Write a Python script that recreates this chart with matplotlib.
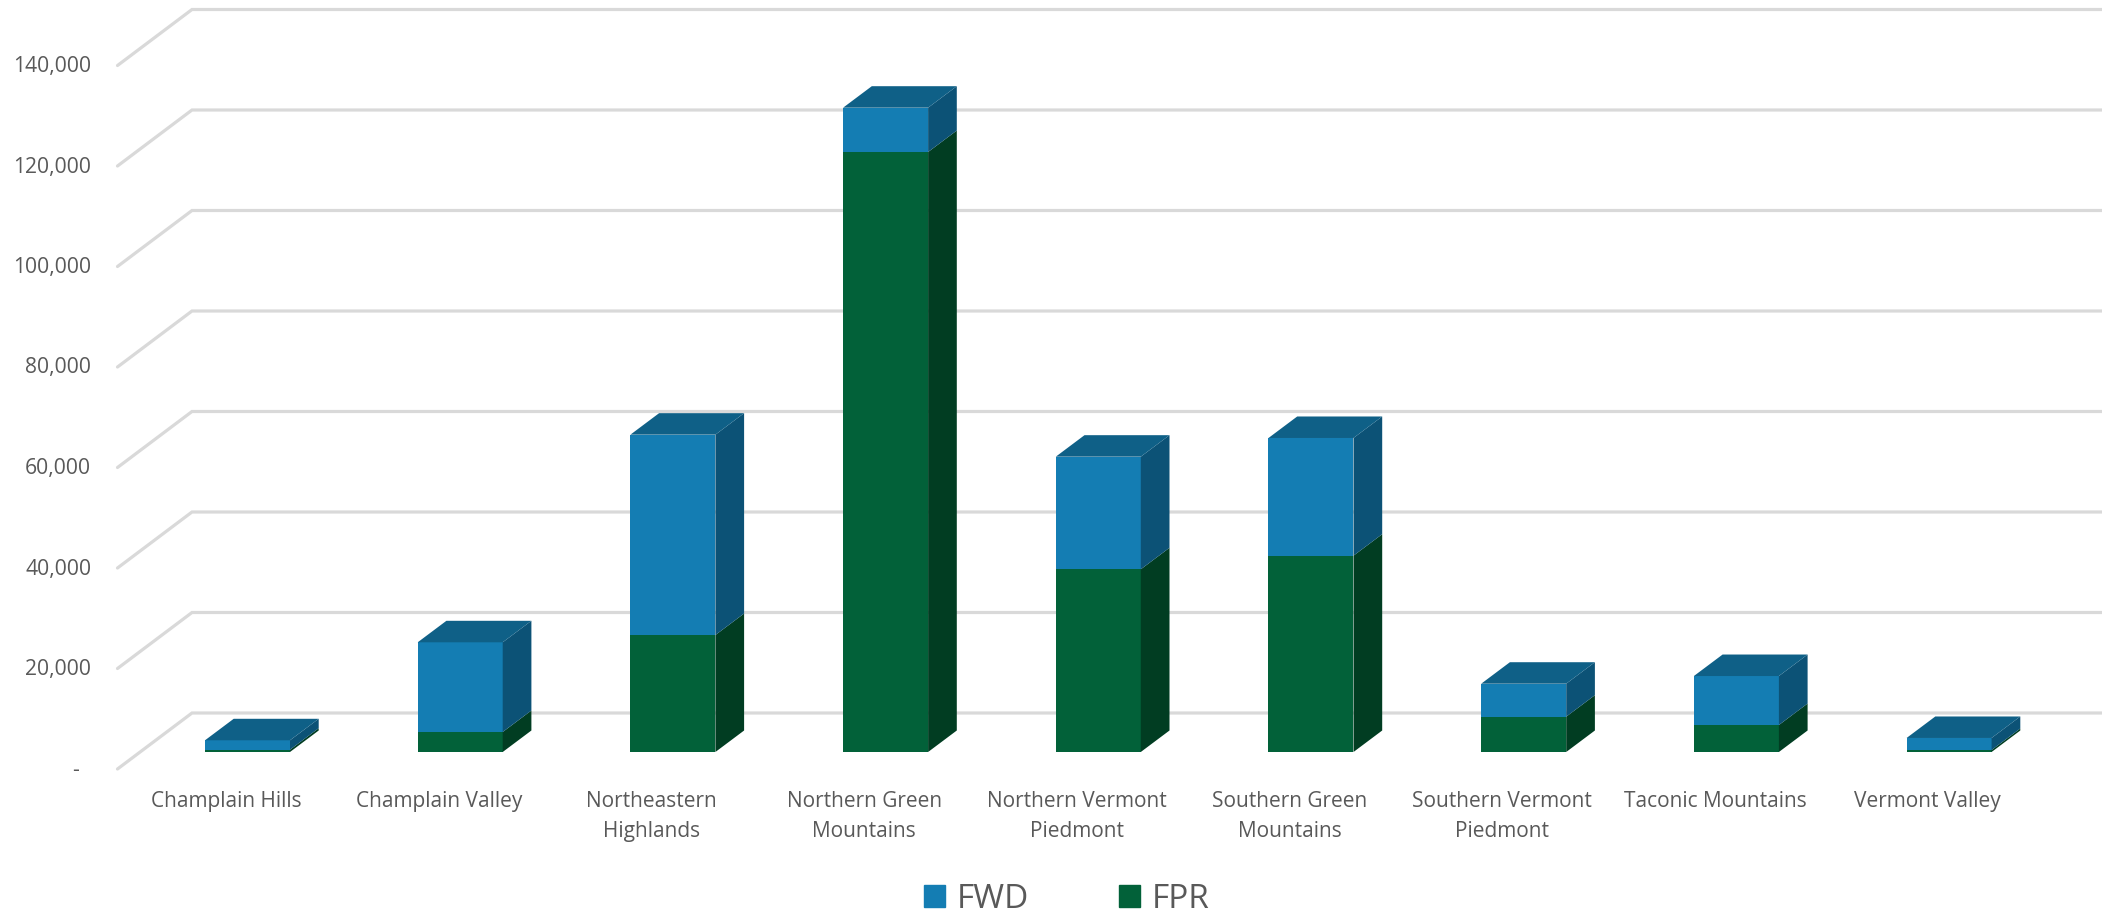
#!/usr/bin/env python3
# -*- coding: utf-8 -*-
"""Stacked pseudo-3D column chart, FWD and FPR by biophysical region."""

import matplotlib
matplotlib.use('Agg')
import matplotlib.pyplot as plt
from matplotlib.patches import Patch
from matplotlib.transforms import ScaledTranslation

regions = [
    'Champlain Hills', 'Champlain Valley', 'Northeastern\nHighlands',
    'Northern Green\nMountains', 'Northern Vermont\nPiedmont',
    'Southern Green\nMountains', 'Southern Vermont\nPiedmont',
    'Taconic Mountains', 'Vermont Valley',
]
fpr = [460, 3980, 23280, 119400, 36360, 39070, 7030, 5370, 400]
fwd = [1870, 17850, 39870, 8820, 22410, 23420, 6560, 9750, 2390]
y_ticks = [0, 20000, 40000, 60000, 80000, 100000, 120000, 140000]

WIDTH, HEIGHT, DPI = 2102, 911, 100
FONT = ['Open Sans', 'DejaVu Sans']
TEXT = '#595959'
GRID = '#D9D9D9'
FWD_FRONT, FWD_TOP, FWD_SIDE = '#147DB3', '#0F6087', '#0C5276'
FPR_FRONT, FPR_SIDE = '#026139', '#013D22'

# axes rectangle is the front plane of the columns, in pixels
LEFT, RIGHT, BASE, TOP = 141.15, 2055.45, 752, 48.5
px_x = 1 / ((RIGHT - LEFT) / 9)
px_y = 140000 / (BASE - TOP)

plt.rcParams['font.family'] = FONT

fig = plt.figure(figsize=(WIDTH / DPI, HEIGHT / DPI), dpi=DPI, facecolor='white')
ax = fig.add_axes([LEFT / WIDTH, 1 - BASE / HEIGHT,
                   (RIGHT - LEFT) / WIDTH, (BASE - TOP) / HEIGHT])
ax.set_xlim(-0.5, 8.5)
ax.set_ylim(0, 140000)
for spine in ax.spines.values():
    spine.set_visible(False)

# 背景网格: front edge of the floor, then back along the wall
for v in y_ticks:
    ax.plot([-0.5 - 23.65 * px_x, -0.5 + 50.85 * px_x, 8.5 + 50.85 * px_x],
            [v - 17 * px_y, v + 39 * px_y, v + 39 * px_y],
            color=GRID, lw=2.3, clip_on=False, zorder=1,
            solid_joinstyle='miter', solid_capstyle='round')

# columns: front faces from bar, depth faces from fill
bar_w = 85 / ((RIGHT - LEFT) / 9)
dx, dy = 28.7 * px_x, 21.5 * px_y
positions = list(range(len(regions)))

ax.bar(positions, fpr, width=bar_w, color=FPR_FRONT, zorder=3, clip_on=False)
ax.bar(positions, fwd, width=bar_w, bottom=fpr, color=FWD_FRONT, zorder=3, clip_on=False)

for i, (low, high) in enumerate(zip(fpr, fwd)):
    x0, x1 = i - bar_w / 2, i + bar_w / 2
    total = low + high
    ax.fill([x1, x1 + dx, x1 + dx, x1], [0, dy, low + dy, low],
            color=FPR_SIDE, lw=0, zorder=3, clip_on=False)
    ax.fill([x1, x1 + dx, x1 + dx, x1], [low, low + dy, total + dy, total],
            color=FWD_SIDE, lw=0, zorder=3, clip_on=False)
    ax.fill([x0, x1, x1 + dx, x0 + dx], [total, total, total + dy, total + dy],
            color=FWD_TOP, lw=0, zorder=3, clip_on=False)

# tick labels sit on the floor front, not on the column plane
ax.set_yticks(y_ticks)
ax.set_yticklabels(['-  ' if v == 0 else f'{v:,}' for v in y_ticks])
ax.set_xticks(positions)
ax.set_xticklabels(regions)
ax.tick_params(axis='y', length=0, pad=36, labelsize=15.2, labelcolor=TEXT)
ax.tick_params(axis='x', length=0, pad=28, labelsize=15, labelcolor=TEXT)

y_shift = ScaledTranslation(0, -15.5 / DPI, fig.dpi_scale_trans)
x_shift = ScaledTranslation(-21.5 / DPI, 0, fig.dpi_scale_trans)
for label in ax.get_yticklabels():
    label.set_transform(label.get_transform() + y_shift)
for label in ax.get_xticklabels():
    label.set_transform(label.get_transform() + x_shift)
    label.set_linespacing(1.55)

handles = [Patch(color=FWD_FRONT, label='FWD'), Patch(color=FPR_FRONT, label='FPR')]
ax.legend(handles=handles, ncols=2, frameon=False, fontsize=24, labelcolor=TEXT,
          loc='center', bbox_to_anchor=(1067 / WIDTH, 1 - 899 / HEIGHT),
          bbox_transform=fig.transFigure, handlelength=0.63, handleheight=0.63,
          handletextpad=0.35, columnspacing=2.7, borderpad=0)

fig.savefig('out.png', dpi=DPI, facecolor='white')
